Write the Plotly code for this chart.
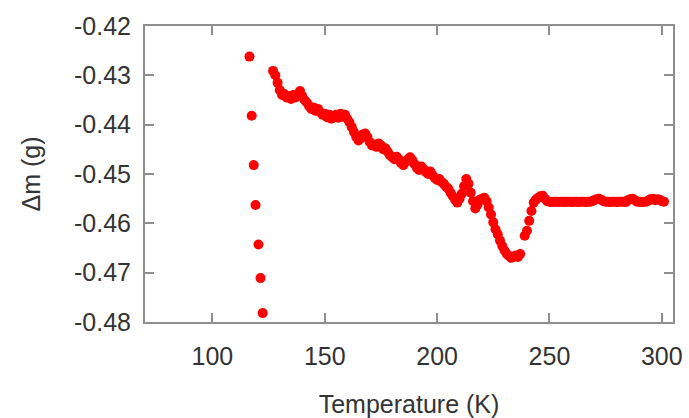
import plotly.graph_objects as go

# Initial cooling sweep: mass change recorded while temperature was nearly constant
cool_T = [116.5, 117.5, 118.4, 119.2, 120.5, 121.4, 122.4]
cool_dm = [-0.4262, -0.4382, -0.4482, -0.4563, -0.4643, -0.4711, -0.4782]

# Warming sweep
warm_T = [
    127, 128, 129, 130, 131, 132, 133, 134, 135, 136, 137, 138, 139, 140,
    141, 142, 143, 144, 145, 146, 147, 148, 149, 150, 151, 152, 153, 154,
    155, 156, 157, 158, 159, 160, 161, 162, 163, 164, 165, 166, 167, 168,
    169, 170, 171, 172, 173, 174, 175, 176, 177, 178, 179, 180, 181, 182,
    183, 184, 185, 186, 187, 188, 189, 190, 191, 192, 193, 194, 195, 196,
    197, 198, 199, 200, 201, 202, 203, 204, 205, 206, 207, 208, 209, 210,
    211, 212, 213, 214, 215, 216, 217, 218, 219, 220, 221, 222, 223, 224,
    225, 226, 227, 228, 229, 230, 231, 232, 233, 234, 235, 236, 237, 239,
    240, 241, 242, 243, 244, 245, 246, 247, 248, 249, 250, 251, 252, 253,
    254, 255, 256, 257, 258, 259, 260, 261, 262, 263, 264, 265, 266, 267,
    268, 269, 270, 271, 272, 273, 274, 275, 276, 277, 278, 279, 280, 281,
    282, 283, 284, 285, 286, 287, 288, 289, 290, 291, 292, 293, 294, 295,
    296, 297, 298, 299, 300, 301,
]
warm_dm = [
    -0.4291, -0.4300, -0.4315, -0.4330, -0.4340, -0.4338, -0.4345, -0.4342,
    -0.4348, -0.4340, -0.4345, -0.4338, -0.4332, -0.4342, -0.4350, -0.4355,
    -0.4362, -0.4368, -0.4365, -0.4372, -0.4368, -0.4375, -0.4380, -0.4378,
    -0.4385, -0.4380, -0.4388, -0.4382, -0.4380, -0.4386, -0.4378, -0.4384,
    -0.4380, -0.4388, -0.4395, -0.4405, -0.4415, -0.4425, -0.4432, -0.4428,
    -0.4420, -0.4418, -0.4425, -0.4435, -0.4442, -0.4440, -0.4445, -0.4438,
    -0.4442, -0.4450, -0.4448, -0.4455, -0.4462, -0.4466, -0.4470, -0.4465,
    -0.4470, -0.4478, -0.4482, -0.4476, -0.4470, -0.4466, -0.4472, -0.4480,
    -0.4488, -0.4492, -0.4485, -0.4490, -0.4496, -0.4500, -0.4495, -0.4502,
    -0.4508, -0.4512, -0.4510, -0.4516, -0.4520, -0.4526, -0.4530, -0.4538,
    -0.4545, -0.4552, -0.4558, -0.4550, -0.4540, -0.4525, -0.4510, -0.4520,
    -0.4538, -0.4555, -0.4570, -0.4562, -0.4552, -0.4550, -0.4548, -0.4555,
    -0.4568, -0.4582, -0.4598, -0.4612, -0.4622, -0.4635, -0.4646, -0.4655,
    -0.4662, -0.4666, -0.4670, -0.4668, -0.4665, -0.4668, -0.4662, -0.4625,
    -0.4615, -0.4595, -0.4575, -0.4558, -0.4552, -0.4548, -0.4545, -0.4544,
    -0.4550, -0.4555, -0.4556, -0.4557, -0.4556, -0.4556, -0.4557, -0.4556,
    -0.4556, -0.4557, -0.4556, -0.4556, -0.4557, -0.4556, -0.4556, -0.4557,
    -0.4556, -0.4556, -0.4557, -0.4556, -0.4556, -0.4555, -0.4553, -0.4551,
    -0.4550, -0.4552, -0.4555, -0.4556, -0.4556, -0.4557, -0.4556, -0.4556,
    -0.4557, -0.4556, -0.4556, -0.4556, -0.4557, -0.4553, -0.4551, -0.4550,
    -0.4553, -0.4556, -0.4556, -0.4557, -0.4556, -0.4556, -0.4554, -0.4551,
    -0.4550, -0.4553, -0.4551, -0.4552, -0.4555, -0.4556,
]

x_ticks = [100, 150, 200, 250, 300]
y_ticks = [-0.42, -0.43, -0.44, -0.45, -0.46, -0.47, -0.48]
y_tick_text = ["-0.42", "-0.43", "-0.44", "-0.45", "-0.46", "-0.47", "-0.48"]

marker = dict(color="#ff0000", size=10, line=dict(width=0))

fig = go.Figure()
fig.add_trace(go.Scatter(x=cool_T, y=cool_dm, mode="markers", marker=marker,
                         showlegend=False))
fig.add_trace(go.Scatter(x=warm_T, y=warm_dm, mode="markers", marker=marker,
                         showlegend=False))

axis_font = dict(family="Liberation Sans, Arial, sans-serif", size=25,
                 color="#333333")
frame = dict(showline=True, linecolor="#8e8e8e", linewidth=2, mirror="ticks",
             ticks="inside", ticklen=9, tickwidth=2, tickcolor="#8e8e8e",
             showgrid=False, zeroline=False, tickfont=axis_font,
             automargin=False)

fig.update_layout(
    width=689, height=418,
    margin=dict(l=145, r=16, t=26, b=96),
    paper_bgcolor="white", plot_bgcolor="white",
    xaxis=dict(range=[70, 305], tickvals=x_ticks, ticklabelstandoff=11,
               title=dict(text="Temperature (K)", font=axis_font, standoff=28),
               **frame),
    yaxis=dict(range=[-0.48, -0.42], tickvals=y_ticks, ticktext=y_tick_text,
               ticklabelstandoff=7,
               title=dict(text="Δm (g)", font=axis_font, standoff=26),
               **frame),
)

fig.write_html("out.html")
